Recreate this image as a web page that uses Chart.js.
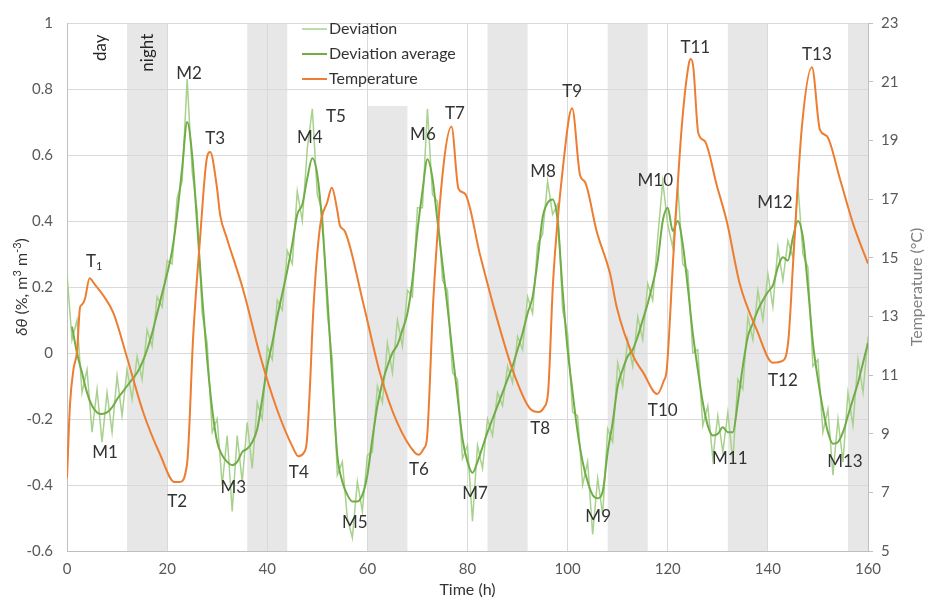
<!DOCTYPE html>
<html>
<head>
<meta charset="utf-8">
<script src="https://cdn.jsdelivr.net/npm/chart.js@4/dist/chart.umd.min.js"></script>
<style>
  html, body { margin: 0; padding: 0; background: #fff; }
  #wrap { width: 927px; height: 599px; }
</style>
</head>
<body>
<div id="wrap"><canvas id="chart" width="927" height="599"></canvas></div>
<script>
// 時間軸（1時間ごと）
const hours = Array.from({ length: 161 }, (_, i) => i);

// 生データ（Deviation）
const deviation = [
  0.24, 0.04, 0.10, -0.12, -0.05, -0.24, -0.11, -0.27, -0.12, -0.24,
  -0.07, -0.19, -0.05, -0.14, -0.01, -0.08, 0.07, 0.02, 0.17, 0.14,
  0.28, 0.27, 0.47, 0.52, 0.83, 0.55, 0.43, 0.12, 0.03, -0.24,
  -0.20, -0.40, -0.25, -0.48, -0.25, -0.39, -0.21, -0.35, -0.15, -0.20,
  0.02, -0.02, 0.16, 0.13, 0.31, 0.27, 0.49, 0.40, 0.62, 0.74,
  0.48, 0.43, 0.12, -0.02, -0.37, -0.33, -0.50, -0.56, -0.39, -0.48,
  -0.31, -0.30, -0.10, -0.15, 0.03, -0.06, 0.10, 0.02, 0.19, 0.17,
  0.44, 0.44, 0.74, 0.48, 0.46, 0.22, 0.19, -0.06, -0.08, -0.32,
  -0.28, -0.51, -0.28, -0.35, -0.20, -0.25, -0.12, -0.16, -0.04, -0.09,
  0.05, 0.01, 0.17, 0.12, 0.33, 0.36, 0.52, 0.42, 0.45, 0.13,
  0.06, -0.18, -0.19, -0.40, -0.33, -0.55, -0.38, -0.49, -0.23, -0.27,
  -0.03, -0.10, 0.04, -0.04, 0.11, 0.04, 0.21, 0.16, 0.35, 0.52,
  0.39, 0.32, 0.51, 0.27, 0.25, 0.00, 0.01, -0.22, -0.16, -0.32,
  -0.19, -0.30, -0.18, -0.33, -0.08, -0.11, 0.11, 0.04, 0.19, 0.10,
  0.24, 0.14, 0.32, 0.22, 0.34, 0.29, 0.51, 0.30, 0.26, -0.04,
  -0.02, -0.24, -0.17, -0.37, -0.20, -0.33, -0.12, -0.22, -0.02, -0.12, 0.05
];

// 移動平均（Deviation average）
const deviationAvg = [
  null, 0.08, 0.00, -0.06, -0.12, -0.16, -0.18, -0.185, -0.18, -0.165,
  -0.14, -0.12, -0.10, -0.08, -0.06, -0.03, 0.01, 0.06, 0.12, 0.18,
  0.24, 0.31, 0.42, 0.56, 0.70, 0.60, 0.39, 0.17, -0.02, -0.17,
  -0.27, -0.31, -0.33, -0.34, -0.33, -0.30, -0.29, -0.27, -0.23, -0.14,
  -0.04, 0.03, 0.11, 0.18, 0.25, 0.33, 0.42, 0.45, 0.53, 0.59,
  0.54, 0.39, 0.17, -0.08, -0.31, -0.39, -0.43, -0.45, -0.45, -0.43,
  -0.37, -0.26, -0.16, -0.09, -0.04, 0.00, 0.025, 0.07, 0.12, 0.22,
  0.37, 0.49, 0.587, 0.53, 0.40, 0.27, 0.14, 0.00, -0.13, -0.26,
  -0.33, -0.363, -0.33, -0.285, -0.24, -0.20, -0.16, -0.12, -0.08, -0.04,
  0.01, 0.06, 0.12, 0.17, 0.28, 0.41, 0.455, 0.465, 0.40, 0.19,
  0.01, -0.12, -0.24, -0.33, -0.39, -0.43, -0.44, -0.42, -0.30, -0.21,
  -0.10, -0.05, -0.01, 0.01, 0.05, 0.10, 0.15, 0.21, 0.28, 0.40,
  0.44, 0.37, 0.40, 0.33, 0.20, 0.06, -0.05, -0.15, -0.22, -0.25,
  -0.245, -0.225, -0.24, -0.24, -0.15, -0.04, 0.05, 0.09, 0.13, 0.16,
  0.185, 0.205, 0.26, 0.29, 0.28, 0.35, 0.40, 0.35, 0.20, 0.03,
  -0.08, -0.17, -0.24, -0.275, -0.27, -0.24, -0.19, -0.14, -0.09, -0.03, 0.03
];

// 温度（°C）
const tempTime = [
  0, 0.6, 1.3, 2.0, 2.6, 3.0, 3.6, 4.5, 5.5, 7.3,
  9.3, 11.9, 15.2, 18.6, 21.5, 22.5, 24.0, 25.2, 26.6, 27.9,
  28.6, 29.9, 30.6, 31.9, 35.2, 38.6, 41.9, 45.2, 46.2, 47.3,
  47.9, 48.5, 49.2, 50.5, 52.0, 52.9, 54.0, 54.5, 55.5, 59.2,
  62.5, 65.9, 69.5, 70.3, 71.3, 71.9, 73.2, 75.2, 76.8, 78.2,
  79.5, 82.5, 85.8, 89.2, 92.5, 94.2, 95.3, 96.1, 97.1, 99.1,
  100.9, 102.5, 103.5, 105.8, 108.5, 109.8, 113.1, 115.1, 117.9, 119.2,
  119.8, 121.1, 122.8, 124.2, 124.6, 125.1, 126.1, 127.4, 129.8, 131.8,
  134.4, 137.8, 141.0, 142.8, 144.1, 145.1, 146.8, 148.8, 150.4, 151.8,
  154.4, 157.1, 160
];
const temperature = [
  7.5, 10.0, 11.2, 11.8, 13.3, 13.4, 13.6, 14.3, 14.1, 13.7,
  13.1, 11.65, 9.74, 8.29, 7.35, 7.35, 8.0, 12.3, 15.7, 18.36,
  18.6, 17.46, 16.45, 15.68, 13.9, 11.65, 9.85, 8.5, 8.23, 8.35,
  8.73, 10.5, 13.2, 16.0, 16.9, 17.38, 16.6, 16.1, 15.9, 13.43,
  11.08, 9.4, 8.35, 8.28, 8.5, 8.84, 13.65, 18.13, 19.47, 17.35,
  17.18, 15.1, 12.98, 11.08, 9.85, 9.74, 9.9, 10.41, 14.2, 18.13,
  20.09, 17.8, 17.57, 15.9, 14.44, 13.32, 11.64, 11.08, 10.35, 10.8,
  11.19, 15.0, 19.47, 21.6, 21.77, 21.5, 19.25, 18.97, 17.46, 16.23,
  14.1, 12.53, 11.42, 11.47, 12.2, 15.0, 19.47, 21.49, 19.36, 19.14,
  17.68, 16.12, 14.8
];

// 夜間（グレー帯）
const nightStart = [12, 36, 60, 84, 108, 132, 156];
const nightEnd = [20, 44, 68, 92, 116, 140, 160];

// ピーク・谷のラベル（x: 時間, y: 左軸の値）
const peakLabels = ['T1', 'M1', 'M2', 'T2', 'T3', 'M3', 'M4', 'T4', 'T5', 'M5', 'M6', 'T6', 'T7',
  'M7', 'M8', 'T8', 'T9', 'M9', 'M10', 'T10', 'T11', 'M11', 'M12', 'T12', 'T13', 'M13'];
const peakLabelX = [5.4, 7.6, 24.4, 22.0, 29.6, 33.2, 48.5, 46.3, 53.7, 57.5, 71.1, 70.3, 77.5,
  81.5, 95.1, 94.5, 100.9, 106.1, 117.5, 119.0, 125.5, 132.4, 141.4, 143.0, 149.8, 155.4];
const peakLabelY = [0.278, -0.301, 0.848, -0.451, 0.651, -0.409, 0.654, -0.361, 0.716, -0.513, 0.663, -0.352, 0.725,
  -0.427, 0.549, -0.230, 0.791, -0.496, 0.522, -0.173, 0.925, -0.319, 0.457, -0.084, 0.904, -0.328];

const FONT = 'Lato, "Open Sans", sans-serif';
const COLOR_RAW = '#a9d18e';
const COLOR_AVG = '#70ad47';
const COLOR_TEMP = '#ed7d31';
const TEXT = '#333333';

const toPoints = (xs, ys) => xs.map((x, i) => ({ x: x, y: ys[i] }));

/**
 * 背景（夜間の帯と凡例の白い箱）
 */
const backgroundPlugin = {
  id: 'background',
  beforeDraw(chart) {
    const { ctx, chartArea: a, scales } = chart;
    ctx.save();
    ctx.fillStyle = '#e7e7e7';
    nightStart.forEach((s, i) => {
      const x0 = scales.x.getPixelForValue(s);
      const x1 = scales.x.getPixelForValue(nightEnd[i]);
      ctx.fillRect(x0, a.top, x1 - x0, a.bottom - a.top);
    });
    // 凡例の背景
    ctx.fillStyle = '#ffffff';
    ctx.fillRect(292, a.top, 188, 83);
    ctx.restore();
  }
};

/**
 * 文字の描画（凡例・ラベル・軸タイトル）
 */
const annotationPlugin = {
  id: 'annotations',
  afterDraw(chart) {
    const { ctx, chartArea: a, scales } = chart;
    ctx.save();

    // 凡例
    const legend = [
      ['Deviation', COLOR_RAW, 1.5],
      ['Deviation average', COLOR_AVG, 2],
      ['Temperature', COLOR_TEMP, 2]
    ];
    ctx.font = '16px ' + FONT;
    ctx.textBaseline = 'middle';
    ctx.textAlign = 'left';
    legend.forEach((item, i) => {
      const y = 29 + i * 25;
      ctx.strokeStyle = item[1];
      ctx.lineWidth = item[2];
      ctx.beginPath();
      ctx.moveTo(302, y);
      ctx.lineTo(327, y);
      ctx.stroke();
      ctx.fillStyle = TEXT;
      ctx.fillText(item[0], 329, y);
    });

    // ピークのラベル
    ctx.font = '17px ' + FONT;
    ctx.textAlign = 'center';
    peakLabels.forEach((label, i) => {
      const px = scales.x.getPixelForValue(peakLabelX[i]);
      const py = scales.y.getPixelForValue(peakLabelY[i]);
      if (label === 'T1') {
        ctx.textAlign = 'left';
        ctx.fillText('T', px - 8, py);
        ctx.font = '11px ' + FONT;
        ctx.fillText('1', px + 2, py + 5);
        ctx.font = '17px ' + FONT;
        ctx.textAlign = 'center';
      } else {
        ctx.fillText(label, px, py);
      }
    });

    // day / night
    const drawRotated = (text, x, y) => {
      ctx.save();
      ctx.translate(x, y);
      ctx.rotate(-Math.PI / 2);
      ctx.fillText(text, 0, 0);
      ctx.restore();
    };
    ctx.fillStyle = '#262626';
    drawRotated('day', scales.x.getPixelForValue(6.6), scales.y.getPixelForValue(0.925));
    drawRotated('night', scales.x.getPixelForValue(16.0), scales.y.getPixelForValue(0.91));

    // X軸タイトル
    ctx.fillStyle = TEXT;
    ctx.font = '16px ' + FONT;
    ctx.fillText('Time (h)', (a.left + a.right) / 2, 590);

    // 右軸タイトル
    ctx.fillStyle = '#7f7f7f';
    drawRotated('Temperature (°C)', 917, (a.top + a.bottom) / 2);

    // 左軸タイトル（δθ はイタリック、上付き文字あり）
    const parts = [
      ['δθ', 'italic 16px ' + FONT, 0],
      [' (%, m', '16px ' + FONT, 0],
      ['3', '11px ' + FONT, -5],
      [' m', '16px ' + FONT, 0],
      ['-3', '11px ' + FONT, -5],
      [')', '16px ' + FONT, 0]
    ];
    let total = 0;
    parts.forEach(p => { ctx.font = p[1]; total += ctx.measureText(p[0]).width; });
    ctx.save();
    ctx.translate(22, (a.top + a.bottom) / 2);
    ctx.rotate(-Math.PI / 2);
    ctx.fillStyle = TEXT;
    ctx.textAlign = 'left';
    let cx = -total / 2;
    parts.forEach(p => {
      ctx.font = p[1];
      ctx.fillText(p[0], cx, p[2]);
      cx += ctx.measureText(p[0]).width;
    });
    ctx.restore();

    ctx.restore();
  }
};

const chart = new Chart(document.getElementById('chart'), {
  type: 'line',
  data: {
    datasets: [
      {
        label: 'Temperature',
        data: toPoints(tempTime, temperature),
        yAxisID: 'y2',
        borderColor: COLOR_TEMP,
        borderWidth: 2,
        pointRadius: 0,
        cubicInterpolationMode: 'monotone',
        order: 1
      },
      {
        label: 'Deviation average',
        data: toPoints(hours, deviationAvg),
        yAxisID: 'y',
        borderColor: COLOR_AVG,
        borderWidth: 2,
        pointRadius: 0,
        cubicInterpolationMode: 'monotone',
        order: 2
      },
      {
        label: 'Deviation',
        data: toPoints(hours, deviation),
        yAxisID: 'y',
        borderColor: COLOR_RAW,
        borderWidth: 1.5,
        pointRadius: 0,
        order: 3
      }
    ]
  },
  options: {
    responsive: false,
    animation: false,
    layout: { padding: { top: 15, left: 0, right: 0, bottom: 0 } },
    plugins: {
      legend: { display: false },
      tooltip: { enabled: false }
    },
    scales: {
      x: {
        type: 'linear',
        min: 0,
        max: 160,
        ticks: {
          stepSize: 20,
          padding: 9,
          color: '#595959',
          font: { family: FONT, size: 15 }
        },
        grid: { color: '#d9d9d9', drawTicks: false },
        border: { color: '#bfbfbf' },
        afterFit: (scale) => { scale.height = 48; }
      },
      y: {
        position: 'left',
        min: -0.6,
        max: 1,
        ticks: {
          stepSize: 0.2,
          padding: 14,
          color: '#595959',
          font: { family: FONT, size: 15 },
          callback: (v) => String(+v.toFixed(1))
        },
        grid: { color: '#d9d9d9', drawTicks: false },
        border: { color: '#bfbfbf' },
        afterFit: (scale) => { scale.width = 67; }
      },
      y2: {
        position: 'right',
        min: 5,
        max: 23,
        ticks: {
          stepSize: 2,
          padding: 8,
          color: '#595959',
          font: { family: FONT, size: 15 }
        },
        grid: { drawOnChartArea: false, color: '#bfbfbf', tickLength: 5 },
        border: { color: '#bfbfbf' },
        afterFit: (scale) => { scale.width = 59; }
      }
    }
  },
  plugins: [backgroundPlugin, annotationPlugin]
});
</script>
</body>
</html>
